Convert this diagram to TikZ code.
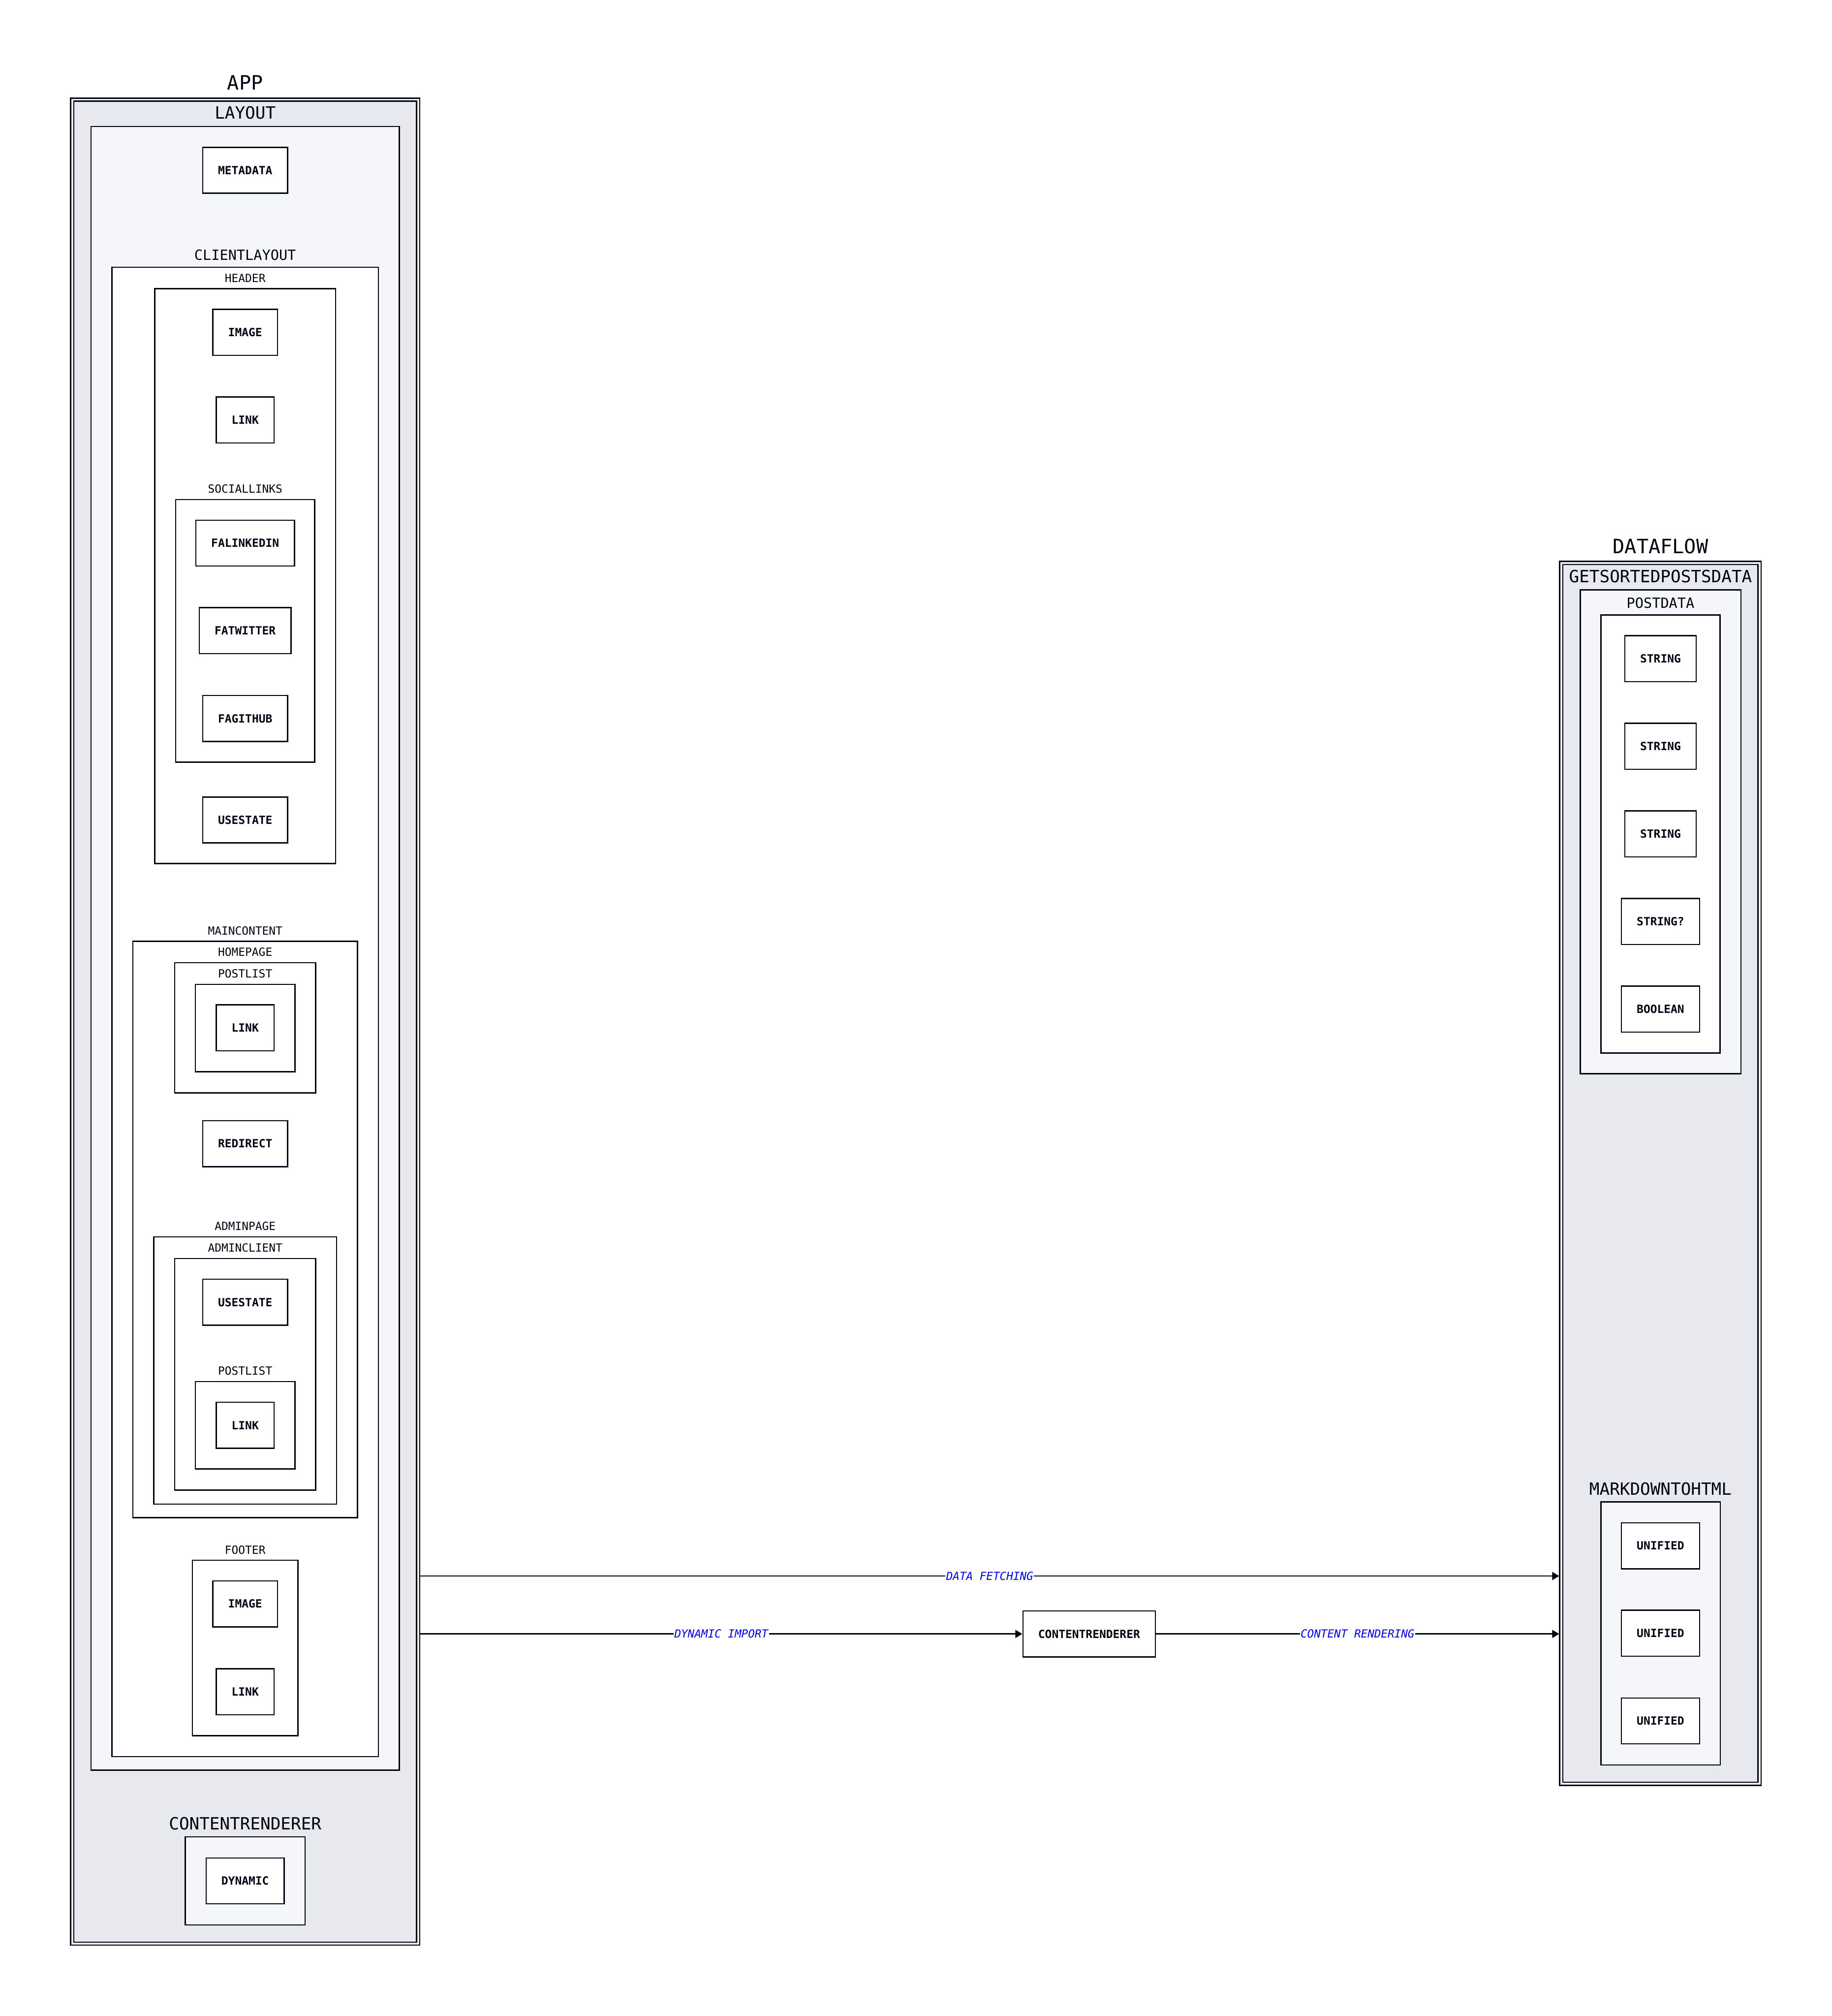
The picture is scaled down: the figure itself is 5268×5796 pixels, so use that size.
\documentclass[tikz,border=0pt]{standalone}
\usepackage{fontspec}
\setmainfont{DejaVu Sans Mono}
\usetikzlibrary{arrows.meta, positioning, fit}
\definecolor{ink}{HTML}{000410}
\definecolor{grpA}{HTML}{E7E9EE}
\definecolor{grpB}{HTML}{F5F6F9}
\definecolor{elblue}{HTML}{0000E4}

\begin{document}
\begin{tikzpicture}[
    x=0.01cm, y=-0.01cm,
    every node/.style={text=ink},
    box/.style={draw=ink, line width=1pt, inner sep=0pt},
    lvlone/.style={box, fill=grpA, double=grpA, double distance=0.055cm, outer sep=0.06cm},
    lvltwo/.style={box, fill=grpB},
    lvlthree/.style={box, fill=white},
    leaf/.style={draw=ink, line width=1pt, fill=white, font=\bfseries\fontsize{9.22}{11}\selectfont, inner xsep=0.44cm, inner ysep=0pt, minimum height=1.32cm},
    ttlA/.style={font=\fontsize{16.16}{19}\selectfont},
    ttlB/.style={font=\fontsize{13.8}{16}\selectfont},
    ttlC/.style={font=\fontsize{11.5}{14}\selectfont},
    ttlD/.style={font=\fontsize{9.2}{11}\selectfont},
    elab/.style={fill=white, text=elblue, font=\itshape\fontsize{9.1}{11}\selectfont, inner sep=0.02cm},
    arr/.style={-{Triangle[length=0.2cm, width=0.23cm]}, draw=ink, line width=1pt}
]
\useasboundingbox (0,0) rectangle (5268,5796);

% app column
\node[lvlone, fit={(207.5,286.5) (1202.5,5588)}] (app) {};
\node[ttlA] (applbl) at (705,237) {APP};
\node[lvltwo, fit={(262,364) (1148,5089)}] (layout) {};
\node[ttlB] (layoutlbl) at (705,324) {LAYOUT};
\node[leaf] (metadata) at (705,489.5) {METADATA};
\node[lvlthree, fit={(322,768) (1088,5050)}] (clientlayout) {};
\node[ttlC] (clientlayoutlbl) at (705,733) {CLIENTLAYOUT};

\node[lvlthree, fit={(445,830) (965,2482.5)}] (header) {};
\node[ttlD] (headerlbl) at (705,800) {HEADER};
\node[leaf] (hdrimage) at (705,955.5) {IMAGE};
\node[leaf] (hdrlink) at (705,1207.5) {LINK};
\node[lvlthree, fit={(505,1436) (905,2191)}] (sociallinks) {};
\node[ttlD] (sociallinkslbl) at (705,1405) {SOCIALLINKS};
\node[leaf] (falinkedin) at (705,1561.5) {FALINKEDIN};
\node[leaf] (fatwitter) at (705,1813) {FATWITTER};
\node[leaf] (fagithub) at (705,2065.5) {FAGITHUB};
\node[leaf] (hdrstate) at (705,2357.5) {USESTATE};

\node[lvlthree, fit={(382,2706) (1028,4363.5)}] (maincontent) {};
\node[ttlD] (maincontentlbl) at (705,2675.5) {MAINCONTENT};
\node[lvlthree, fit={(502,2768) (908,3142)}] (homepage) {};
\node[ttlD] (homepagelbl) at (705,2736.5) {HOMEPAGE};
\node[lvlthree, fit={(562,2830) (848,3081.5)}] (homelist) {};
\node[ttlD] (homelistlbl) at (705,2799) {POSTLIST};
\node[leaf] (homelink) at (705,2955) {LINK};
\node[leaf] (redirect) at (705,3288) {REDIRECT};
\node[lvlthree, fit={(442,3556) (968,4324)}] (adminpage) {};
\node[ttlD] (adminpagelbl) at (705,3525) {ADMINPAGE};
\node[lvlthree, fit={(502,3618) (908,4284)}] (adminclient) {};
\node[ttlD] (adminclientlbl) at (705,3587.5) {ADMINCLIENT};
\node[leaf] (adminstate) at (705,3744) {USESTATE};
\node[lvlthree, fit={(562,3972) (848,4223)}] (adminlist) {};
\node[ttlD] (adminlistlbl) at (705,3941.5) {POSTLIST};
\node[leaf] (adminlink) at (705,4097.5) {LINK};

\node[lvlthree, fit={(553,4485.5) (857,4990)}] (footer) {};
\node[ttlD] (footerlbl) at (705,4456) {FOOTER};
\node[leaf] (ftrimage) at (705,4611) {IMAGE};
\node[leaf] (ftrlink) at (705,4864) {LINK};

\node[lvltwo, fit={(532.5,5281) (877.5,5534)}] (rendererbox) {};
\node[ttlB] (rendererboxlbl) at (705,5243) {CONTENTRENDERER};
\node[leaf] (dynamic) at (705,5407.5) {DYNAMIC};

% dataflow column
\node[lvlone, fit={(4489.5,1618.5) (5060,5128.5)}] (dataflow) {};
\node[ttlA] (dataflowlbl) at (4775,1570) {DATAFLOW};
\node[lvltwo, fit={(4544,1696) (5006,3087)}] (getsorted) {};
\node[ttlB] (getsortedlbl) at (4775,1657) {GETSORTEDPOSTSDATA};
\node[lvlthree, fit={(4604,1768) (4946,3027.5)}] (postdata) {};
\node[ttlC] (postdatalbl) at (4775,1733) {POSTDATA};
\node[leaf] (slug) at (4775,1893.5) {STRING};
\node[leaf] (title) at (4775,2145.5) {STRING};
\node[leaf] (date) at (4775,2397.5) {STRING};
\node[leaf] (summary) at (4775,2649.5) {STRING?};
\node[leaf] (draft) at (4775,2901) {BOOLEAN};
\node[lvltwo, fit={(4603.5,4318) (4947,5074)}] (mdtohtml) {};
\node[ttlB] (mdtohtmllbl) at (4775,4280) {MARKDOWNTOHTML};
\node[leaf] (unifiedA) at (4775,4444) {UNIFIED};
\node[leaf] (unifiedB) at (4775,4695.5) {UNIFIED};
\node[leaf] (unifiedC) at (4775,4947.5) {UNIFIED};

% connections
\node[leaf] (renderer) at (3132,4697.5) {CONTENTRENDERER};
\coordinate (fetchrow) at (0,4531);

\draw[arr] (app.east |- fetchrow) -- node[elab]{DATA FETCHING} (dataflow.west |- fetchrow);
\draw[arr] (app.east |- renderer) -- node[elab]{DYNAMIC IMPORT} (renderer);
\draw[arr] (renderer) -- node[elab]{CONTENT RENDERING} (dataflow.west |- renderer);
\end{tikzpicture}
\end{document}
